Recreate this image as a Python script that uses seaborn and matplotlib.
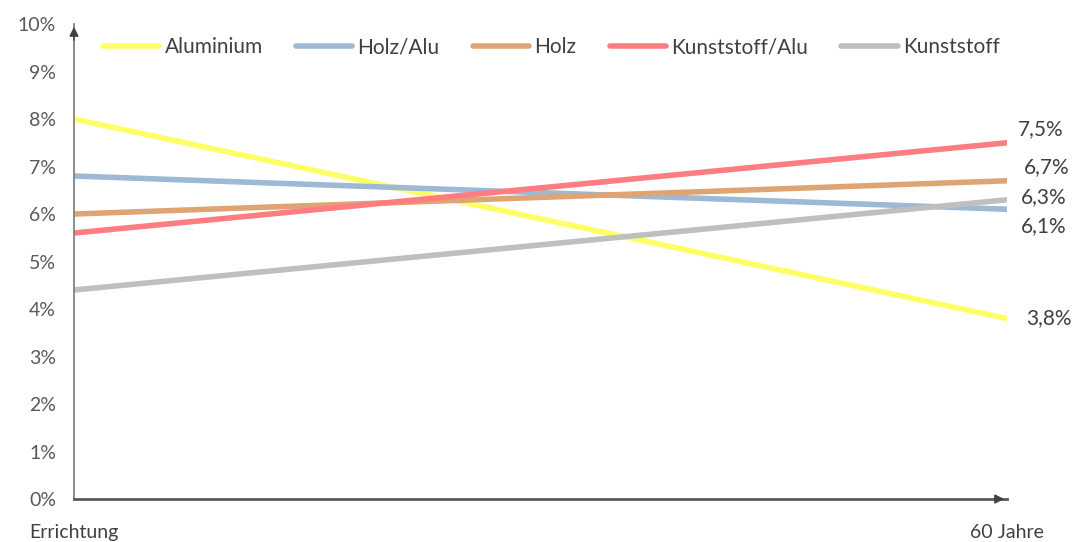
import matplotlib
matplotlib.use('Agg')
import matplotlib.pyplot as plt
import pandas as pd
import seaborn as sns

# data
years = [0, 60]
x_labels = ['Errichtung', '60 Jahre']
series_names = ['Aluminium', 'Holz/Alu', 'Holz', 'Kunststoff/Alu', 'Kunststoff']
start_values = [8.0, 6.8, 6.0, 5.6, 4.4]
end_values = [3.8, 6.1, 6.7, 7.5, 6.3]
end_labels = ['3,8%', '6,1%', '6,7%', '7,5%', '6,3%']
colors = ['#FFFF66', '#9DB9D5', '#DFA474', '#FF7C80', '#C0BFBF']
label_offsets = [0, -12, 10, 10, 2]  # vertical nudge in points
label_x = [14, 10, 12, 8, 10]

sns.set_theme(style='white')
plt.rcParams['font.family'] = ['Lato', 'DejaVu Sans']

rows = []
for name, a, b in zip(series_names, start_values, end_values):
    rows.append({'t': years[0], 'value': a, 'Serie': name})
    rows.append({'t': years[1], 'value': b, 'Serie': name})
df = pd.DataFrame(rows)

fig = plt.figure(figsize=(10.77, 5.42), dpi=100)
ax = fig.add_axes([0.0687, 0.0793, 0.8663, 0.8764])
sns.lineplot(data=df, x='t', y='value', hue='Serie', hue_order=series_names,
             palette=colors, linewidth=4, ax=ax, legend=True)

ax.set_xlim(years[0], years[1])
ax.set_ylim(0, 10)
ax.set_yticks(range(0, 11))
ax.set_yticklabels([f'{v}%' for v in range(0, 11)], fontsize=14, color='#595959')
ax.set_xticks(years)
ax.set_xticklabels(x_labels, fontsize=14, color='#404040')
ax.tick_params(axis='y', length=5, width=1, color='#595959', direction='out', pad=8)
ax.tick_params(axis='x', length=6, width=1, color='#595959', direction='out', pad=12)
ax.set_xlabel('')
ax.set_ylabel('')

for s in ['top', 'right']:
    ax.spines[s].set_visible(False)
ax.spines['left'].set_color('#7f7f7f')
ax.spines['bottom'].set_color('#595959')
ax.spines['bottom'].set_linewidth(2)

# axis arrows
ax.annotate('', xy=(years[0], 10), xytext=(years[0], 9.6),
            arrowprops=dict(arrowstyle='-|>', color='#404040', lw=1, mutation_scale=14))
ax.annotate('', xy=(years[1], 0), xytext=(years[1] - 1, 0),
            arrowprops=dict(arrowstyle='-|>', color='#404040', lw=1, mutation_scale=14))

for val, lab, off, dx in zip(end_values, end_labels, label_offsets, label_x):
    ax.annotate(lab, xy=(years[1], val), xytext=(dx, off), textcoords='offset points',
                ha='left', va='center', fontsize=15, color='#404040',
                annotation_clip=False)

leg = ax.legend(loc='upper left', bbox_to_anchor=(0.011, 1.012), ncol=5, frameon=False,
                fontsize=15, handlelength=2.7, columnspacing=1.6, handletextpad=0.25)
for t in leg.get_texts():
    t.set_color('#404040')

fig.savefig('out.png', dpi=100)
